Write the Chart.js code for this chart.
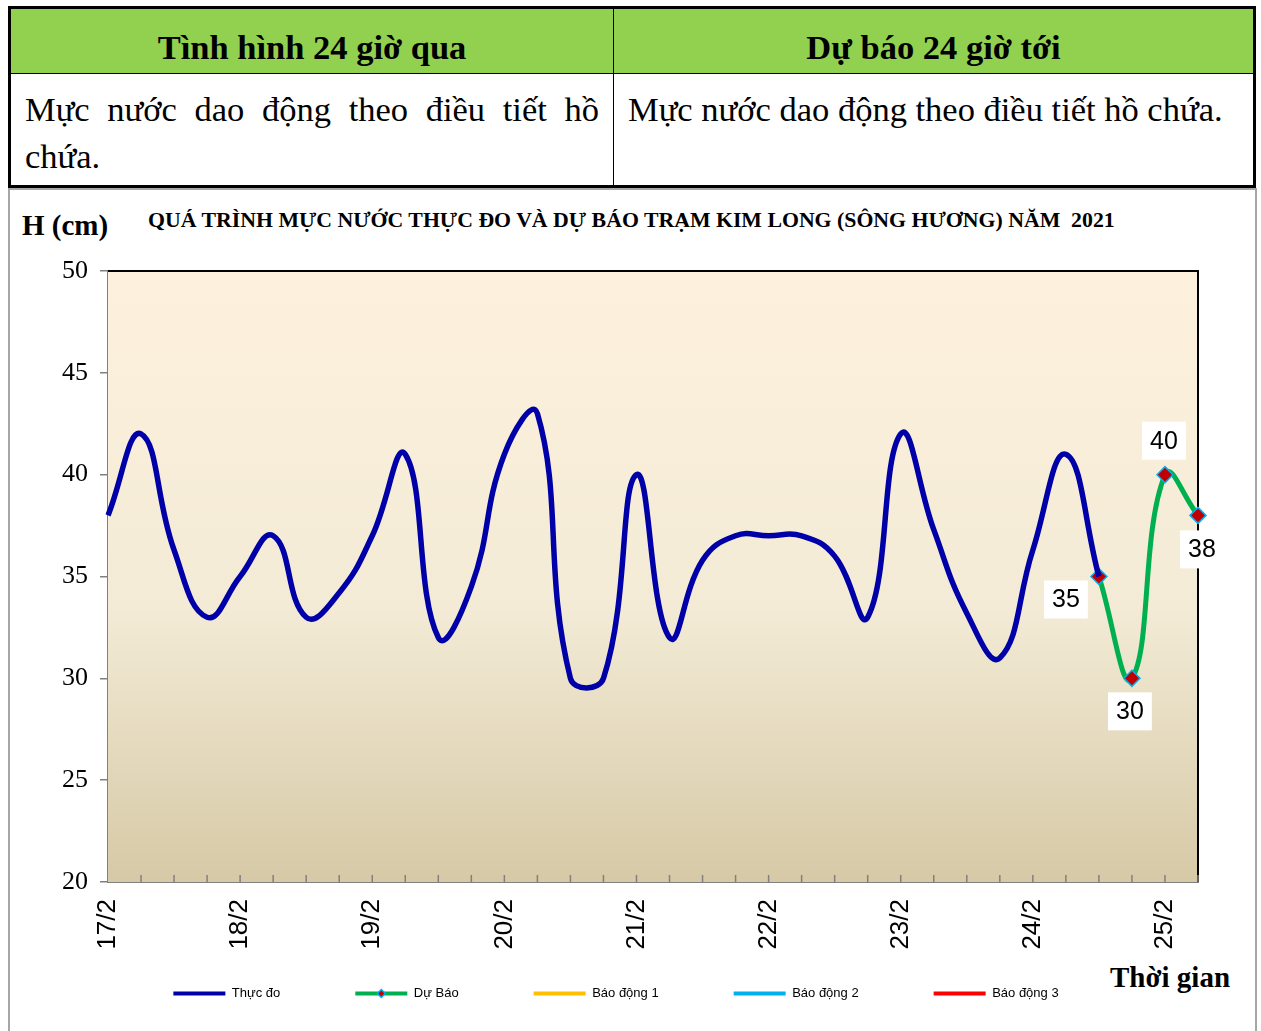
<!DOCTYPE html>
<html>
<head>
<meta charset="utf-8">
<script src="https://cdn.jsdelivr.net/npm/chart.js@4.4.0/dist/chart.umd.min.js"></script>
<style>
  body { margin: 0; background: #fff; width: 1261px; height: 1031px; overflow: hidden; position: relative; }
  table.info {
    position: absolute; left: 8px; top: 6px; width: 1248px; height: 182px;
    border-collapse: collapse; border: 3px solid #000;
    font-family: "Liberation Serif", "Times New Roman", serif;
  }
  table.info th {
    background: #92d050; height: 52px; font-size: 34.5px; font-weight: bold;
    border: 1px solid #000; padding: 12px 0 0 0; line-height: 40px;
  }
  table.info td {
    vertical-align: top; font-size: 34.5px; line-height: 47px; border: 1px solid #000;
    padding: 12px 14px 0 14px; text-align: justify;
  }
  .frame {
    position: absolute; left: 8px; top: 188px; width: 1245px; height: 860px;
    border: 2px solid #a6a6a6;
  }
  .lbl { position: absolute; font-family: "Liberation Serif", "Times New Roman", serif; font-weight: bold; color: #000; white-space: nowrap; }
  #wrap { position: absolute; left: 34px; top: 190px; width: 1227px; height: 841px; }
</style>
</head>
<body>
<table class="info">
  <tr><th style="width:602px">Tình hình 24 giờ qua</th><th>Dự báo 24 giờ tới</th></tr>
  <tr><td>Mực nước dao động theo điều tiết hồ chứa.</td><td>Mực nước dao động theo điều tiết hồ chứa.</td></tr>
</table>
<div class="frame"></div>
<div class="lbl" style="left:22px; top:209px; font-size:29px;">H (cm)</div>
<div class="lbl" style="left:148px; top:208px; font-size:21.8px;">QUÁ TRÌNH MỰC NƯỚC THỰC ĐO VÀ DỰ BÁO TRẠM KIM LONG (SÔNG HƯƠNG) NĂM&nbsp; 2021</div>
<div class="lbl" style="left:1110px; top:961px; font-size:29px;">Thời gian</div>
<div id="wrap"><canvas id="chart" width="1227" height="841"></canvas></div>
<script>
// ngay (moi ngay 4 diem, 6 gio/lan)
const dayLabels = ['17/2', '18/2', '19/2', '20/2', '21/2', '22/2', '23/2', '24/2', '25/2'];
const pointsPerDay = 4;
const totalPoints = 34;

// muc nuoc thuc do (cm)
const thucDo = [38, 42, 36.3, 33, 35, 37, 33, 34.2, 37, 41, 32, 34.5, 41, 43, 30, 30,
                40, 32, 35.8, 37, 37, 37, 36, 33, 42, 37.3, 33.2, 31, 36.3, 41, 35];
// du bao (cm), bat dau tu diem cuoi thuc do
const duBaoStart = 30;
const duBao = [35, 30, 40, 38];

// bao dong (ngoai pham vi truc)
const baoDong1 = [];
const baoDong2 = [];
const baoDong3 = [];

const yTicks = [20, 25, 30, 35, 40, 45, 50];

const xLabels = [];
for (let i = 0; i < totalPoints; i++) {
    xLabels.push(i % pointsPerDay === 0 ? (dayLabels[i / pointsPerDay] || '') : '');
}
const thucDoData = xLabels.map((_, i) => i < thucDo.length ? thucDo[i] : null);
const duBaoData = xLabels.map((_, i) => (i >= duBaoStart && i - duBaoStart < duBao.length) ? duBao[i - duBaoStart] : null);

// nen vung ve + vien tren/phai + vach chia trong
const plotBg = {
    id: 'plotBg',
    afterLayout(chart) {
        // cho nhan truc x khong bi cat
        chart.scales.x.bottom = chart.height;
    },
    beforeDatasetsDraw(chart) {
        const {ctx, chartArea: a} = chart;
        const g = ctx.createLinearGradient(0, a.top, 0, a.bottom);
        g.addColorStop(0, '#fdf1dd');
        g.addColorStop(0.55, '#f3ebd6');
        g.addColorStop(1, '#d6c9a6');
        ctx.save();
        ctx.fillStyle = g;
        ctx.fillRect(a.left, a.top, a.right - a.left, a.bottom - a.top);
        ctx.strokeStyle = '#000';
        ctx.lineWidth = 2;
        ctx.beginPath();
        ctx.moveTo(a.left, a.top);
        ctx.lineTo(a.right, a.top);
        ctx.lineTo(a.right, a.bottom);
        ctx.stroke();
        // vach chia truc x huong vao trong
        const xs = chart.scales.x;
        ctx.strokeStyle = '#808080';
        ctx.lineWidth = 1.5;
        ctx.beginPath();
        for (let i = 1; i < totalPoints; i++) {
            const px = xs.getPixelForTick(i);
            ctx.moveTo(px, a.bottom);
            ctx.lineTo(px, a.bottom - 7);
        }
        ctx.stroke();
        ctx.restore();
    }
};

// nhan gia tri du bao
const labelPos = [[-33, 23], [-2, 33], [-1, -34], [4, 34]];
const valueLabels = {
    id: 'valueLabels',
    afterDatasetsDraw(chart) {
        const {ctx} = chart;
        const meta = chart.getDatasetMeta(1);
        ctx.save();
        ctx.font = '25px "Liberation Sans", Arial, sans-serif';
        ctx.textAlign = 'center';
        ctx.textBaseline = 'middle';
        duBao.forEach((v, k) => {
            const pt = meta.data[duBaoStart + k];
            const cx = pt.x + labelPos[k][0];
            const cy = pt.y + labelPos[k][1];
            const t = String(v);
            const w = ctx.measureText(t).width + 16;
            ctx.fillStyle = '#fff';
            ctx.fillRect(cx - w / 2, cy - 19, w, 38);
            ctx.fillStyle = '#000';
            ctx.fillText(t, cx, cy + 1);
        });
        ctx.restore();
    }
};

// diem danh dau cho chu giai Du Bao
const legendMarker = {
    id: 'legendMarker',
    afterDraw(chart) {
        const lg = chart.legend;
        if (!lg || !lg.legendHitBoxes[1]) return;
        const hb = lg.legendHitBoxes[1];
        const cx = hb.left + 26, cy = hb.top + hb.height / 2;
        const ctx = chart.ctx;
        ctx.save();
        ctx.fillStyle = '#c00000';
        ctx.strokeStyle = '#00b0f0';
        ctx.lineWidth = 1.5;
        ctx.beginPath();
        ctx.moveTo(cx, cy - 4); ctx.lineTo(cx + 4, cy); ctx.lineTo(cx, cy + 4); ctx.lineTo(cx - 4, cy);
        ctx.closePath();
        ctx.fill(); ctx.stroke();
        ctx.restore();
    }
};

const ctx = document.getElementById('chart');
new Chart(ctx, {
    type: 'line',
    data: {
        labels: xLabels,
        datasets: [
            {
                label: 'Thực đo',
                data: thucDoData,
                borderColor: '#0000a8',
                backgroundColor: '#0000a8',
                borderWidth: 5.5,
                pointRadius: 0,
                tension: 0.45
            },
            {
                label: 'Dự Báo',
                data: duBaoData,
                borderColor: '#00b050',
                backgroundColor: '#00b050',
                borderWidth: 5,
                pointStyle: 'rectRot',
                pointRadius: 8,
                pointBackgroundColor: '#c00000',
                pointBorderColor: '#00b0f0',
                pointBorderWidth: 1.5,
                tension: 0.45,
                clip: false
            },
            { label: 'Báo động 1', data: baoDong1, borderColor: '#ffc000', backgroundColor: '#ffc000', borderWidth: 4, pointRadius: 0 },
            { label: 'Báo động 2', data: baoDong2, borderColor: '#00b0f0', backgroundColor: '#00b0f0', borderWidth: 4, pointRadius: 0 },
            { label: 'Báo động 3', data: baoDong3, borderColor: '#ff0000', backgroundColor: '#ff0000', borderWidth: 4, pointRadius: 0 }
        ]
    },
    options: {
        responsive: false,
        animation: false,
        layout: {
            padding: { left: 0, right: 63, top: 81, bottom: 21 }
        },
        scales: {
            x: {
                afterFit: (scale) => { scale.height = 30; },
                grid: { display: false },
                border: { display: true, color: '#808080', width: 2 },
                ticks: {
                    autoSkip: false,
                    maxRotation: 90,
                    minRotation: 90,
                    padding: 9,
                    color: '#000',
                    font: { family: '"Liberation Sans", Arial, sans-serif', size: 26 }
                }
            },
            y: {
                min: 20,
                max: 50,
                afterFit: (scale) => { scale.width = 74; },
                afterBuildTicks: (scale) => { scale.ticks = yTicks.map(v => ({ value: v })); },
                grid: { drawOnChartArea: false, tickLength: 8, color: '#808080', lineWidth: 1.5 },
                border: { display: true, color: '#808080', width: 2 },
                ticks: {
                    padding: 12,
                    color: '#000',
                    font: { family: '"Liberation Serif", "Times New Roman", serif', size: 26 }
                }
            }
        },
        plugins: {
            legend: {
                position: 'bottom',
                labels: {
                    usePointStyle: true,
                    pointStyle: 'line',
                    pointStyleWidth: 52,
                    padding: 75,
                    color: '#000',
                    font: { family: '"Liberation Sans", Arial, sans-serif', size: 13 },
                    generateLabels: (chart) => chart.data.datasets.map((ds, i) => ({
                        text: ds.label,
                        datasetIndex: i,
                        pointStyle: 'line',
                        strokeStyle: ds.borderColor,
                        fillStyle: ds.borderColor,
                        lineWidth: 4,
                        fontColor: '#000',
                        hidden: false
                    }))
                }
            },
            tooltip: { enabled: false },
            title: { display: false }
        }
    },
    plugins: [plotBg, valueLabels, legendMarker]
});
</script>
</body>
</html>
